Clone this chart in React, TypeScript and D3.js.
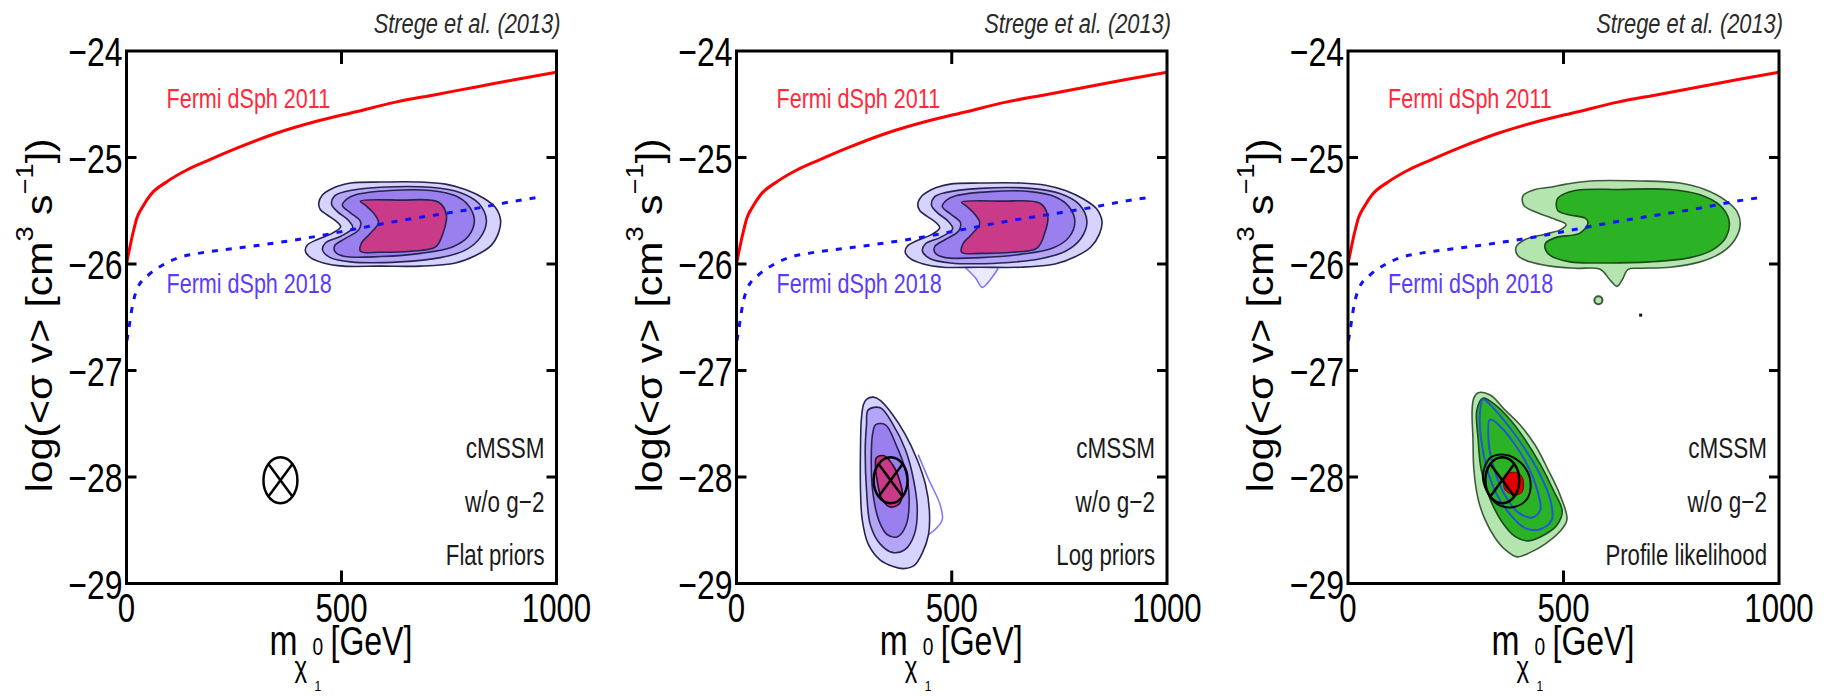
import React from 'react';
import * as d3 from 'd3';

type P = [number, number];

// ---------------- data ----------------
const X_TICKS = [0, 500, 1000];
const Y_TICKS = [-24, -25, -26, -27, -28, -29];
const X_DOMAIN: P = [0, 1000];
const Y_DOMAIN: P = [-29, -24];

const FERMI_2011: P[] = [[0, -26.0], [15, -25.71], [24, -25.57], [38, -25.46], [56, -25.35], [93, -25.23], [139, -25.12], [194, -25.02], [258, -24.91], [350, -24.77], [442, -24.66], [534, -24.57], [626, -24.48], [718, -24.41], [810, -24.34], [902, -24.27], [1000, -24.2]];
const FERMI_2018: P[] = [[1, -26.72], [5, -26.62], [13, -26.41], [24, -26.24], [52, -26.1], [84, -26.01], [121, -25.94], [167, -25.9], [259, -25.85], [350, -25.8], [442, -25.74], [534, -25.67], [626, -25.6], [718, -25.54], [810, -25.48], [902, -25.41], [966, -25.37]];

const BEST_FIT: P = [358, -28.03];

// Flat priors (panel 1)
const FLAT_L1: P[] = [[491, -25.27], [521, -25.24], [591, -25.23], [684, -25.23], [742, -25.25], [788, -25.3], [830, -25.38], [858, -25.47], [870, -25.59], [865, -25.71], [847, -25.83], [812, -25.92], [765, -25.99], [684, -26.02], [591, -26.02], [505, -26.02], [458, -25.99], [428, -25.94], [416, -25.88], [421, -25.82], [444, -25.77], [479, -25.71], [498, -25.65], [488, -25.6], [467, -25.54], [451, -25.49], [447, -25.43], [456, -25.35], [474, -25.3]];
const FLAT_L2: P[] = [[509, -25.32], [591, -25.28], [707, -25.28], [777, -25.33], [819, -25.43], [837, -25.59], [823, -25.75], [788, -25.87], [730, -25.94], [637, -25.98], [521, -25.98], [474, -25.94], [456, -25.87], [463, -25.8], [498, -25.74], [526, -25.66], [516, -25.59], [491, -25.51], [477, -25.44], [484, -25.36]];
const FLAT_L3: P[] = [[533, -25.35], [614, -25.31], [707, -25.31], [765, -25.36], [795, -25.45], [809, -25.59], [795, -25.74], [758, -25.84], [684, -25.9], [591, -25.93], [509, -25.93], [486, -25.89], [484, -25.83], [509, -25.76], [540, -25.68], [544, -25.6], [521, -25.52], [502, -25.45], [512, -25.39]];
const FLAT_L4: P[] = [[544, -25.41], [637, -25.4], [726, -25.42], [744, -25.54], [737, -25.7], [719, -25.84], [661, -25.88], [591, -25.89], [544, -25.88], [547, -25.8], [565, -25.72], [586, -25.61], [574, -25.52], [556, -25.45]];

// Log priors (panel 2)
const LOG_TOP_L1: P[] = [[466, -25.28], [496, -25.25], [566, -25.24], [660, -25.24], [718, -25.26], [764, -25.31], [806, -25.39], [836, -25.48], [849, -25.6], [843, -25.72], [823, -25.84], [788, -25.93], [740, -26.0], [660, -26.03], [566, -26.03], [480, -26.03], [434, -26.0], [404, -25.95], [392, -25.89], [397, -25.83], [420, -25.78], [455, -25.72], [472, -25.66], [463, -25.61], [442, -25.55], [426, -25.5], [421, -25.44], [431, -25.36], [449, -25.31]];
const LOG_TOP_L2: P[] = [[485, -25.33], [567, -25.29], [683, -25.29], [753, -25.34], [796, -25.44], [814, -25.6], [800, -25.76], [764, -25.88], [706, -25.95], [613, -25.99], [497, -25.99], [450, -25.95], [432, -25.88], [439, -25.81], [474, -25.75], [502, -25.67], [492, -25.6], [467, -25.52], [453, -25.45], [460, -25.37]];
const LOG_TOP_L3: P[] = [[509, -25.36], [590, -25.32], [683, -25.32], [741, -25.37], [772, -25.46], [786, -25.6], [772, -25.75], [735, -25.85], [660, -25.91], [567, -25.94], [485, -25.94], [462, -25.9], [460, -25.84], [485, -25.77], [516, -25.69], [520, -25.61], [497, -25.53], [478, -25.46], [488, -25.4]];
const LOG_TOP_L4: P[] = [[523, -25.42], [616, -25.41], [705, -25.43], [723, -25.55], [716, -25.71], [698, -25.85], [640, -25.89], [570, -25.9], [523, -25.89], [526, -25.81], [544, -25.73], [565, -25.62], [553, -25.53], [535, -25.46]];
const LOG_TAIL: P[] = [[531, -26.03], [555, -26.13], [571, -26.22], [589, -26.15], [608, -26.04]];
const LOG_BOT_L1: P[] = [[302, -27.27], [318, -27.25], [334, -27.28], [362, -27.41], [392, -27.6], [420, -27.84], [439, -28.07], [448, -28.31], [446, -28.54], [432, -28.71], [413, -28.83], [388, -28.86], [364, -28.84], [334, -28.78], [306, -28.63], [292, -28.4], [288, -28.12], [288, -27.74], [290, -27.46], [295, -27.32]];
const LOG_BOT_L2: P[] = [[306, -27.37], [334, -27.35], [364, -27.51], [392, -27.74], [411, -28.02], [420, -28.31], [413, -28.54], [392, -28.68], [364, -28.71], [334, -28.63], [311, -28.45], [302, -28.12], [299, -27.74], [302, -27.51]];
const LOG_BOT_L3: P[] = [[323, -27.51], [346, -27.51], [371, -27.7], [392, -27.93], [401, -28.21], [394, -28.45], [374, -28.56], [350, -28.54], [330, -28.4], [316, -28.12], [313, -27.84], [316, -27.6]];
const LOG_BOT_L4: P[] = [[325, -27.82], [343, -27.8], [362, -27.88], [378, -28.02], [385, -28.17], [376, -28.26], [355, -28.28], [336, -28.19], [327, -28.04], [323, -27.91]];
const LOG_BOT_EXT: P[] = [[422, -27.79], [446, -28.02], [473, -28.26], [478, -28.4], [462, -28.49], [446, -28.54]];

// Profile likelihood (panel 3)
const PL_TOP_OUTER: P[] = [[506, -25.25], [562, -25.22], [678, -25.22], [770, -25.24], [828, -25.3], [875, -25.4], [903, -25.51], [910, -25.63], [898, -25.77], [868, -25.89], [817, -25.98], [747, -26.03], [678, -26.04], [650, -26.05], [636, -26.15], [624, -26.21], [608, -26.15], [585, -26.05], [527, -26.04], [469, -26.02], [422, -25.98], [394, -25.92], [390, -25.84], [411, -25.77], [457, -25.72], [492, -25.68], [506, -25.63], [480, -25.58], [434, -25.51], [408, -25.45], [406, -25.36], [434, -25.3], [469, -25.28]];
const PL_TOP_INNER: P[] = [[487, -25.38], [527, -25.31], [631, -25.3], [747, -25.3], [817, -25.35], [863, -25.45], [884, -25.59], [877, -25.75], [845, -25.87], [794, -25.94], [701, -25.98], [585, -25.99], [515, -25.98], [469, -25.92], [457, -25.85], [459, -25.8], [483, -25.75], [538, -25.71], [557, -25.61], [550, -25.57], [515, -25.54], [487, -25.5], [483, -25.44]];
const PL_DOTS: P[] = [[581, -26.34]];
const PL_SPECKS: P[] = [[679, -26.48]];
const PL_BOT_OUTER: P[] = [[302, -27.21], [330, -27.23], [364, -27.37], [399, -27.51], [434, -27.7], [464, -27.93], [492, -28.17], [508, -28.4], [492, -28.51], [457, -28.63], [422, -28.71], [392, -28.75], [364, -28.68], [341, -28.57], [318, -28.4], [302, -28.21], [292, -27.93], [290, -27.65], [288, -27.37], [292, -27.26]];
const PL_BOT_INNER: P[] = [[313, -27.26], [341, -27.32], [376, -27.46], [411, -27.65], [446, -27.88], [476, -28.12], [497, -28.32], [485, -28.45], [457, -28.54], [418, -28.6], [388, -28.56], [357, -28.42], [330, -28.21], [309, -27.93], [302, -27.65], [299, -27.37]];
const PL_BLUE_1: P[] = [[313, -27.27], [341, -27.37], [376, -27.54], [411, -27.74], [446, -27.98], [469, -28.21], [473, -28.4], [446, -28.49], [411, -28.48], [376, -28.35], [346, -28.17], [323, -27.93], [309, -27.65], [306, -27.42]];
const PL_BLUE_2: P[] = [[330, -27.46], [357, -27.54], [388, -27.7], [415, -27.88], [439, -28.12], [446, -28.31], [427, -28.38], [394, -28.33], [364, -28.17], [341, -27.95], [327, -27.7]];
const PL_BLACK: P[] = [[330, -27.82], [364, -27.79], [399, -27.86], [422, -28.01], [418, -28.19], [388, -28.28], [348, -28.26], [323, -28.14], [313, -27.98]];
const PL_RED: P[] = [[371, -27.97], [394, -27.96], [406, -28.02], [404, -28.14], [388, -28.17], [364, -28.12], [362, -28.04]];

// labels
const PRIOR_LABELS = ['Flat priors', 'Log priors', 'Profile likelihood'];
const MODEL_LABEL = 'cMSSM';
const G2_LABEL = 'w/o g\u22122';
const CITATION = 'Strege et al. (2013)';
const LINE_LABELS = ['Fermi dSph 2011', 'Fermi dSph 2018'];

// ---------------- layout ----------------
const W = 1832;
const H = 696;
const TOP = 51;
const BOTTOM = 583.5;
const BOXES = [
  { left: 126.5, right: 556.5 },
  { left: 736.5, right: 1167 },
  { left: 1348, right: 1779 },
];
const FONT = "'Liberation Sans', Arial, Helvetica, sans-serif";

function T(props: {
  x: number; y: number; size: number; sx?: number; anchor?: string; fill?: string; italic?: boolean; children: React.ReactNode;
}) {
  const { x, y, size, sx = 0.78, anchor = 'start', fill = '#000', italic, children } = props;
  return (
    <text
      transform={`translate(${x},${y}) scale(${sx},1)`}
      fontSize={size}
      textAnchor={anchor as any}
      fill={fill}
      fontStyle={italic ? 'italic' : undefined}
      fontFamily={FONT}
    >
      {children}
    </text>
  );
}

const fmt = (v: number) => (v < 0 ? '\u2212' + Math.abs(v) : String(v));

function Panel({ idx }: { idx: number }) {
  const box = BOXES[idx];
  const x = d3.scaleLinear().domain(X_DOMAIN).range([box.left, box.right]);
  const y = d3.scaleLinear().domain(Y_DOMAIN).range([BOTTOM, TOP]);
  const closed = d3.line<P>().x((d) => x(d[0])).y((d) => y(d[1])).curve(d3.curveCatmullRomClosed.alpha(0.5));
  const open = d3.line<P>().x((d) => x(d[0])).y((d) => y(d[1])).curve(d3.curveCatmullRom.alpha(0.5));
  const lim = d3.line<P>().x((d) => x(d[0])).y((d) => y(d[1])).curve(d3.curveMonotoneX);
  const clipId = `clip${idx}`;
  const cx = (box.left + box.right) / 2;

  const purple = ['#d7d3ff', '#b4a5f7', '#9a80ef', '#c93a88'];
  const navy = '#28244f';
  const fillPath = (pts: P[], fill: string, stroke: string, sw = 1.6, key?: string) => (
    <path key={key} d={closed(pts) || ''} fill={fill} stroke={stroke} strokeWidth={sw} strokeLinejoin="round" />
  );

  let contours: React.ReactNode = null;
  if (idx === 0) {
    contours = [FLAT_L1, FLAT_L2, FLAT_L3, FLAT_L4].map((c, i) => fillPath(c, purple[i], navy, 1.6, 'f' + i));
  } else if (idx === 1) {
    contours = (
      <g>
        <path d={open(LOG_TAIL) || ''} fill="#eceaff" stroke="#7a74ff" strokeWidth={1.5} />
        {[LOG_TOP_L1, LOG_TOP_L2, LOG_TOP_L3, LOG_TOP_L4].map((c, i) => fillPath(c, purple[i], navy, 1.6, 't' + i))}
        <path d={open(LOG_BOT_EXT) || ''} fill="none" stroke="#7a74ff" strokeWidth={1.5} />
        {[LOG_BOT_L1, LOG_BOT_L2, LOG_BOT_L3, LOG_BOT_L4].map((c, i) => fillPath(c, purple[i], i === 3 ? '#2a0a20' : navy, 1.6, 'b' + i))}
      </g>
    );
  } else {
    contours = (
      <g>
        {fillPath(PL_TOP_OUTER, '#b5e5ae', '#3d5a3c', 1.6)}
        {fillPath(PL_TOP_INNER, '#2cb225', '#1d4a1a', 1.6)}
        {PL_DOTS.map((d, i) => (
          <circle key={'d' + i} cx={x(d[0])} cy={y(d[1])} r={4} fill="#b5e5ae" stroke="#3d5a3c" strokeWidth={2} />
        ))}
        {PL_SPECKS.map((d, i) => (
          <rect key={'s' + i} x={x(d[0]) - 1.5} y={y(d[1]) - 1.5} width={3} height={3} fill="#111" />
        ))}
        {fillPath(PL_BOT_OUTER, '#b5e5ae', '#3d5a3c', 1.6)}
        {fillPath(PL_BOT_INNER, '#2cb225', '#1d4a1a', 1.6)}
        <path d={closed(PL_BLUE_1) || ''} fill="none" stroke="#2256d8" strokeWidth={2} />
        <path d={closed(PL_BLUE_2) || ''} fill="none" stroke="#2256d8" strokeWidth={2} />
        <path d={closed(PL_BLACK) || ''} fill="none" stroke="#0a0a0a" strokeWidth={2} />
        <path d={closed(PL_RED) || ''} fill="#e00000" stroke="#7a0000" strokeWidth={1} />
      </g>
    );
  }

  const mx = x(BEST_FIT[0]);
  const my = y(BEST_FIT[1]);
  const rx = 17;
  const ry = 23;
  const k = Math.SQRT1_2;
  const lsx = 0.8; // horizontal condensation of the x-axis title

  return (
    <g>
      <defs>
        <clipPath id={clipId}>
          <rect x={box.left} y={TOP} width={box.right - box.left} height={BOTTOM - TOP} />
        </clipPath>
      </defs>
      <g clipPath={`url(#${clipId})`}>
        {contours}
        <path d={lim(FERMI_2011) || ''} fill="none" stroke="#ff0000" strokeWidth={3} />
        <path d={lim(FERMI_2018) || ''} fill="none" stroke="#1010ff" strokeWidth={3} strokeDasharray="6,8" />
        <g stroke="#000" strokeWidth={2.5} fill="none">
          <ellipse cx={mx} cy={my} rx={rx} ry={ry} />
          <line x1={mx - rx * k} y1={my - ry * k} x2={mx + rx * k} y2={my + ry * k} />
          <line x1={mx - rx * k} y1={my + ry * k} x2={mx + rx * k} y2={my - ry * k} />
        </g>
      </g>

      {/* frame */}
      <rect x={box.left} y={TOP} width={box.right - box.left} height={BOTTOM - TOP} fill="none" stroke="#000" strokeWidth={3} />
      {Y_TICKS.filter((v) => v > Y_DOMAIN[0] && v < Y_DOMAIN[1]).map((v) => (
        <g key={'yt' + v} stroke="#000" strokeWidth={3}>
          <line x1={box.left} x2={box.left + 10} y1={y(v)} y2={y(v)} />
          <line x1={box.right} x2={box.right - 10} y1={y(v)} y2={y(v)} />
        </g>
      ))}
      {X_TICKS.filter((v) => v > X_DOMAIN[0] && v < X_DOMAIN[1]).map((v) => (
        <g key={'xt' + v} stroke="#000" strokeWidth={3}>
          <line x1={x(v)} x2={x(v)} y1={TOP} y2={TOP + 13} />
          <line x1={x(v)} x2={x(v)} y1={BOTTOM} y2={BOTTOM - 13} />
        </g>
      ))}

      {/* tick labels */}
      {Y_TICKS.map((v) => (
        <T key={'yl' + v} x={box.left - 4} y={y(v) + 15} size={41} anchor="end">
          {fmt(v)}
        </T>
      ))}
      {X_TICKS.map((v) => (
        <T key={'xl' + v} x={x(v)} y={622} size={40} anchor="middle">
          {fmt(v)}
        </T>
      ))}

      {/* axis titles */}
      <text
        transform={`translate(${box.left - 75},${(TOP + BOTTOM) / 2 - 2}) rotate(-90)`}
        fontSize={36}
        textAnchor="middle"
        fontFamily={FONT}
        textLength={354}
        lengthAdjust="spacingAndGlyphs"
      >
        log(&lt;σ v&gt; [cm<tspan dy={-19} fontSize={24}>3</tspan>
        <tspan dy={19}> s</tspan>
        <tspan dy={-19} fontSize={24}>{'\u22121'}</tspan>
        <tspan dy={19}>])</tspan>
      </text>
      <text transform={`translate(${cx},0) scale(${lsx},1)`} fontFamily={FONT} fill="#000">
        <tspan x={-72 / lsx} y={655} fontSize={42}>m</tspan>
        <tspan x={-47 / lsx} y={677} fontSize={30}>χ</tspan>
        <tspan x={-27 / lsx} y={691} fontSize={15}>1</tspan>
        <tspan x={-29 / lsx} y={655} fontSize={24}>0</tspan>
        <tspan x={-11 / lsx} y={655} fontSize={40}>[GeV]</tspan>
      </text>

      {/* annotations */}
      <T x={box.right + 4} y={33} size={28} anchor="end" italic fill="#2a2a2a">{CITATION}</T>
      <T x={box.left + 40} y={108} size={28} sx={0.77} fill="#ff2a3a">{LINE_LABELS[0]}</T>
      <T x={box.left + 40} y={293} size={28} sx={0.77} fill="#5a3cff">{LINE_LABELS[1]}</T>
      <T x={box.right - 12} y={458} size={30} sx={0.75} anchor="end" fill="#1a1a1a">{MODEL_LABEL}</T>
      <T x={box.right - 12} y={512} size={30} sx={0.75} anchor="end" fill="#1a1a1a">{G2_LABEL}</T>
      <T x={box.right - 12} y={565} size={30} sx={0.74} anchor="end" fill="#1a1a1a">{PRIOR_LABELS[idx]}</T>
    </g>
  );
}

export default function App() {
  return (
    <svg
      width={W}
      height={H}
      viewBox={`0 0 ${W} ${H}`}
      style={{ position: 'absolute', left: 0, top: 0, background: '#fff' }}
    >
      <rect x={0} y={0} width={W} height={H} fill="#fff" />
      {BOXES.map((_, i) => (
        <Panel key={i} idx={i} />
      ))}
    </svg>
  );
}
